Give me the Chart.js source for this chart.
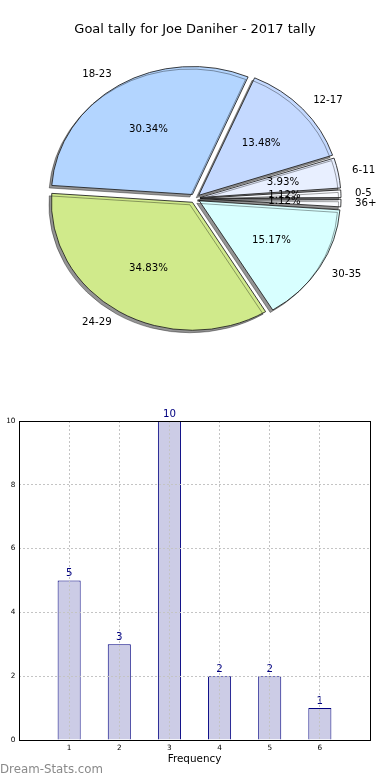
<!DOCTYPE html>
<html><head><meta charset="utf-8">
<script src="https://cdn.jsdelivr.net/npm/chart.js@4.4.1/dist/chart.umd.min.js"></script>
<style>
html,body{margin:0;padding:0;background:#fff;width:390px;height:780px;overflow:hidden;position:relative;}
#pieWrap{position:absolute;left:0;top:0;width:390px;height:359px;}
#barWrap{position:absolute;left:-11px;top:400px;width:401px;height:380px;}
#wm{position:absolute;left:0;top:762px;font:11.8px "DejaVu Sans";color:#8a8a8a;white-space:nowrap;}
</style></head><body>
<div id="pieWrap"><canvas id="pie" width="390" height="359"></canvas></div>
<div id="barWrap"><canvas id="bar" width="401" height="380"></canvas></div>
<div id="wm">Dream-Stats.com</div>
<script>
// ---- data ----
const chartTitle = 'Goal tally for Joe Daniher - 2017 tally';
const ageGroups = ['0-5', '6-11', '12-17', '18-23', '24-29', '30-35', '36+'];
const goalShares = [1.12, 3.93, 13.48, 30.34, 34.83, 15.17, 1.12];
const sliceColors = ['#fafcff', '#e8efff', '#c4d9ff', '#b3d5ff', '#d0ea8b', '#d8ffff', '#fafcff'];

const freqValues = [1, 2, 3, 4, 5, 6];
const freqCounts = [5, 3, 10, 2, 2, 1];
const yTickValues = [0, 2, 4, 6, 8, 10];
const xAxisTitle = 'Frequency';
const yAxisTitle = 'Number of Games';

Chart.defaults.font.family = "'DejaVu Sans'";
Chart.defaults.color = '#000';

// ---- pie ----
const R = 141, EXPL = 5, YR = 128 / 141;
const pieOrder = ageGroups.map((_, i) => i).reverse();

const pieDecor = {
  id: 'pieDecor',
  beforeDatasetsDraw(chart) {
    const meta = chart.getDatasetMeta(0);
    const ctx = chart.ctx;
    meta.data.forEach(arc => {
      const c = arc.endAngle - arc.startAngle;
      const fix = 1 - Math.sin(Math.min(Math.PI, c));
      arc.outerRadius = R - EXPL * fix;
    });
    const a0 = meta.data[0];
    ctx.save();
    ctx.translate(a0.x, a0.y); ctx.scale(1, YR); ctx.translate(-a0.x, -a0.y);
    ctx.shadowColor = 'rgba(0,0,0,0.42)';
    ctx.shadowOffsetX = -2.5; ctx.shadowOffsetY = 2.5; ctx.shadowBlur = 0;
  },
  afterDatasetsDraw(chart) {
    const ctx = chart.ctx;
    ctx.restore();
    const meta = chart.getDatasetMeta(0);
    ctx.save();
    ctx.font = '10.2px "DejaVu Sans"';
    ctx.fillStyle = '#000';
    ctx.textBaseline = 'middle';
    meta.data.forEach((arc, k) => {
      const i = pieOrder[k];
      const h = (arc.startAngle + arc.endAngle) / 2;
      const put = d => [arc.x + d * Math.cos(h), arc.y + d * Math.sin(h) * YR];
      const [lx, ly] = put(EXPL + 1.1 * R);
      ctx.textAlign = Math.cos(h) >= 0 ? 'left' : 'right';
      ctx.fillText(ageGroups[i], lx, ly);
      const [px, py] = put(EXPL + 0.6 * R);
      ctx.textAlign = 'center';
      ctx.fillText(goalShares[i].toFixed(2) + '%', px, py);
    });
    ctx.restore();
  }
};

new Chart(document.getElementById('pie'), {
  type: 'pie',
  data: {
    labels: pieOrder.map(i => ageGroups[i]),
    datasets: [{
      data: pieOrder.map(i => goalShares[i]),
      backgroundColor: pieOrder.map(i => sliceColors[i]),
      borderColor: '#1e1e1e',
      borderWidth: 0.9,
      offset: EXPL * 4,
      hoverOffset: 0,
      clip: false
    }]
  },
  options: {
    responsive: false, animation: false, events: [],
    rotation: 90,
    radius: R,
    layout: { padding: 0 },
    plugins: {
      legend: { display: false }, tooltip: { enabled: false },
      title: { display: true, text: chartTitle, color: '#000',
        font: { size: 13, weight: 'normal' }, padding: { top: 22.2, bottom: 0 } }
    }
  },
  plugins: [pieDecor]
});

// ---- bar ----
const barDecor = {
  id: 'barDecor',
  afterDatasetsDraw(chart) {
    const ctx = chart.ctx;
    const meta = chart.getDatasetMeta(0);
    ctx.save();
    ctx.font = '10.2px "DejaVu Sans"';
    ctx.fillStyle = '#000080';
    ctx.textAlign = 'center';
    ctx.textBaseline = 'bottom';
    meta.data.forEach((bar, i) => {
      ctx.fillText(String(freqCounts[i]), bar.x, bar.y - 2);
    });
    ctx.restore();
  },
  afterDraw(chart) {
    const { ctx, chartArea: a } = chart;
    ctx.save();
    ctx.strokeStyle = '#000';
    ctx.lineWidth = 1;
    const l = Math.round(a.left), t = Math.round(a.top), r = Math.round(a.right), b = Math.round(a.bottom);
    ctx.strokeRect(l + 0.5, t + 0.5, r - l, b - t);
    ctx.restore();
  }
};

const gridGrey = '#c4c4c4';
new Chart(document.getElementById('bar'), {
  type: 'bar',
  data: {
    datasets: [{
      data: freqValues.map((v, i) => ({ x: v, y: freqCounts[i] })),
      backgroundColor: '#ccccE6',
      borderColor: '#000080',
      borderWidth: 1,
      barPercentage: 0.46,
      categoryPercentage: 1
    }]
  },
  options: {
    responsive: false, animation: false, events: [],
    layout: { padding: { left: 0, right: 20, top: 21, bottom: 0 } },
    plugins: { legend: { display: false }, tooltip: { enabled: false } },
    scales: {
      x: {
        type: 'linear', min: 0, max: 7, offset: false,
        afterFit(s) { s.height = 40; },
        afterBuildTicks(s) { s.ticks = freqValues.map(v => ({ value: v })); },
        ticks: { autoSkip: false, padding: 4, maxRotation: 0, font: { size: 7.3 }, callback: v => String(v) },
        grid: { offset: false, drawTicks: false, z: 1, color: gridGrey, lineWidth: 1, borderDash: [2, 2] },
        border: { display: false, dash: [2, 2] },
        title: { display: true, text: xAxisTitle, font: { size: 10.4 }, padding: { top: 0, bottom: 14.76 } }
      },
      y: {
        type: 'linear', min: 0, max: 10,
        afterFit(s) { s.width = 30; },
        afterBuildTicks(s) { s.ticks = yTickValues.map(v => ({ value: v })); },
        ticks: { padding: 3.5, font: { size: 7.3 } },
        grid: { drawTicks: false, z: 1, color: gridGrey, lineWidth: 1, borderDash: [2, 2] },
        border: { display: false, dash: [2, 2] },
        title: { display: true, text: yAxisTitle, font: { size: 10.4 }, padding: { top: 0.76, bottom: 0 } }
      }
    }
  },
  plugins: [barDecor]
});
</script>
</body></html>
